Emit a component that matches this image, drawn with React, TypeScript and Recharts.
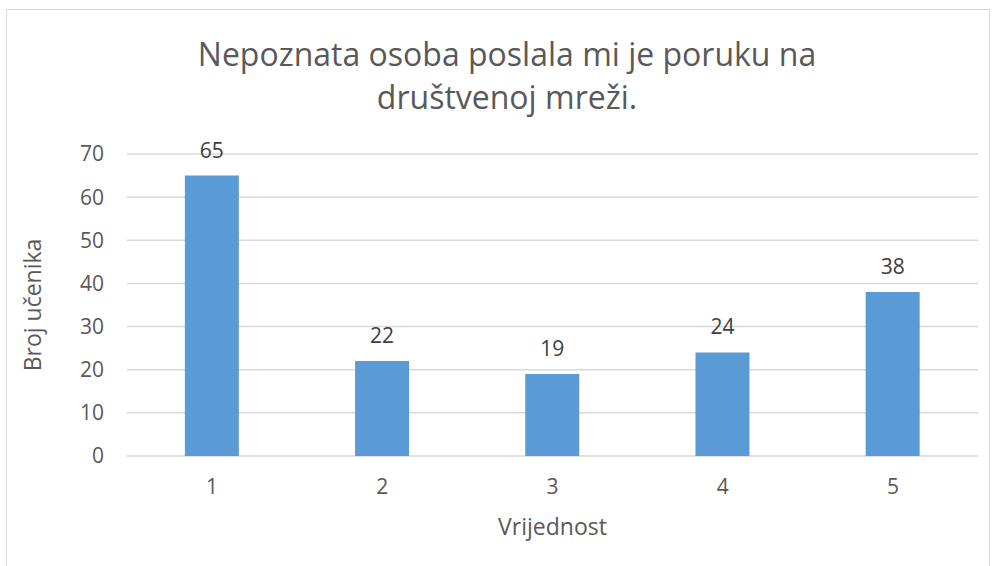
import React from "react";
import {
    BarChart,
    Bar,
    XAxis,
    YAxis,
    CartesianGrid,
    LabelList,
    Label,
} from "recharts";

const categories = ["1", "2", "3", "4", "5"];
const counts = [65, 22, 19, 24, 38];
const yTicks = [0, 10, 20, 30, 40, 50, 60, 70];
const titleLines = ["Nepoznata osoba poslala mi je poruku na", "društvenoj mreži."];

const data = categories.map((c, i) => ({ vrijednost: c, broj: counts[i] }));

const FONT = "'Open Sans', sans-serif";
const TEXT = "#595959";

export default function App() {
    return (
        <div
            style={{
                position: "fixed",
                left: 0,
                top: 0,
                width: 993,
                height: 566,
                background: "#fff",
                fontFamily: FONT,
                overflow: "hidden",
            }}
        >
            <div
                style={{
                    position: "absolute",
                    left: 6,
                    top: 9,
                    width: 984,
                    height: 570,
                    border: "1px solid #D9D9D9",
                    boxSizing: "border-box",
                }}
            />
            <div
                style={{
                    position: "absolute",
                    left: 0,
                    top: 32,
                    width: 1014,
                    textAlign: "center",
                    color: TEXT,
                    fontSize: 32,
                    lineHeight: "43px",
                }}
            >
                {titleLines.map((t) => (
                    <div key={t}>{t}</div>
                ))}
            </div>
            <div style={{ position: "absolute", left: 0, top: 0 }}>
                <BarChart
                    width={993}
                    height={566}
                    data={data}
                    barCategoryGap="34%"
                    margin={{ top: 154, right: 15, bottom: 0, left: 0 }}
                >
                    <CartesianGrid vertical={false} stroke="#D9D9D9" strokeWidth={1.5} />
                    <XAxis
                        dataKey="vrijednost"
                        axisLine={false}
                        tickLine={false}
                        height={110}
                        tickSize={21}
                        tick={{ fill: TEXT, fontSize: 21, fontFamily: FONT }}
                    >
                        <Label
                            value="Vrijednost"
                            position="insideTop"
                            offset={63}
                            fill={TEXT}
                            fontSize={23}
                            fontFamily={FONT}
                        />
                    </XAxis>
                    <YAxis
                        domain={[0, 70]}
                        ticks={yTicks}
                        axisLine={false}
                        tickLine={false}
                        width={127}
                        tickSize={21}
                        tick={{ fill: TEXT, fontSize: 21, fontFamily: FONT }}
                    >
                        <Label
                            value="Broj učenika"
                            angle={-90}
                            position="insideLeft"
                            offset={33}
                            style={{ textAnchor: "middle" }}
                            fill={TEXT}
                            fontSize={23}
                            fontFamily={FONT}
                        />
                    </YAxis>
                    <Bar dataKey="broj" fill="#5B9BD5" isAnimationActive={false}>
                        <LabelList
                            dataKey="broj"
                            position="top"
                            offset={18}
                            fill="#404040"
                            fontSize={21}
                            fontFamily={FONT}
                        />
                    </Bar>
                </BarChart>
            </div>
        </div>
    );
}
